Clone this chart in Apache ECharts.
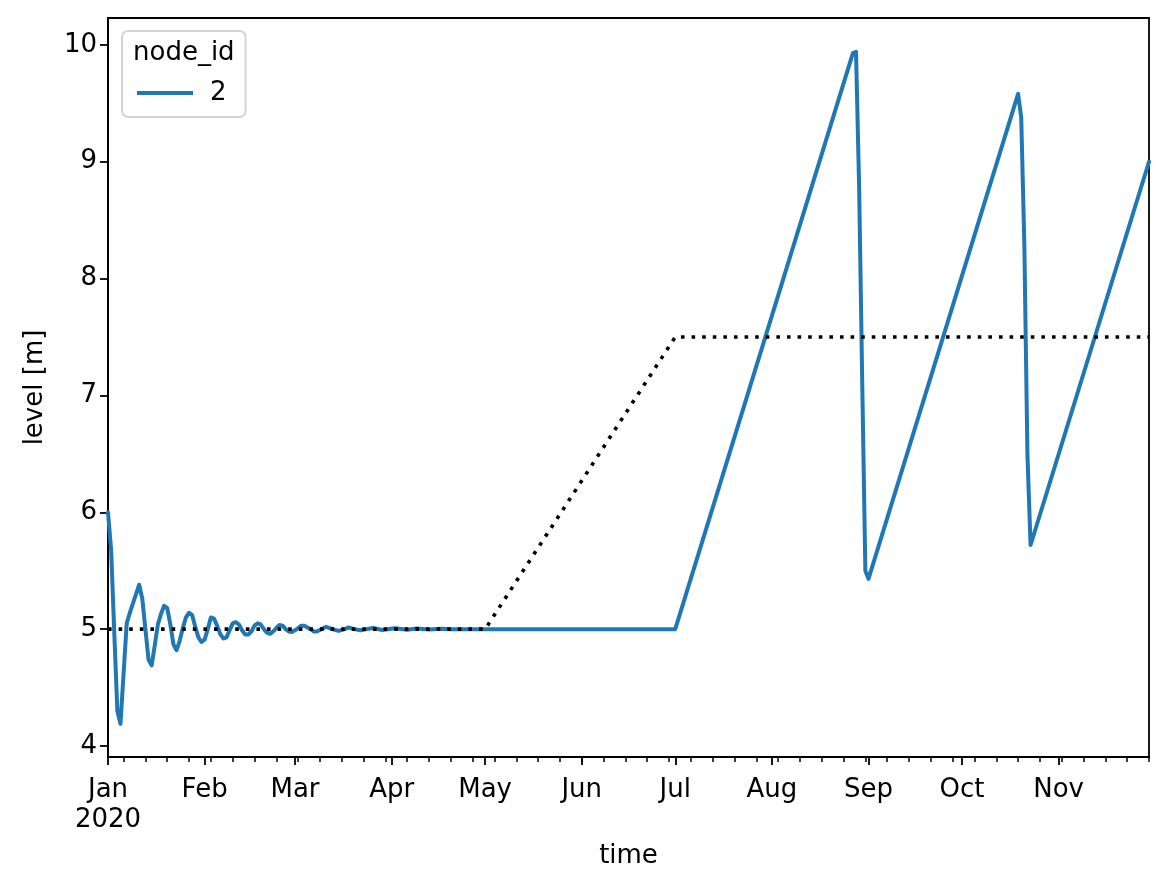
<!DOCTYPE html>
<html><head><meta charset="utf-8">
<script src="https://cdn.jsdelivr.net/npm/echarts@6/dist/echarts.min.js"></script>
<style>html,body{margin:0;padding:0;background:#fff}#c{width:1169px;height:888px}</style>
</head><body><div id="c"></div>
<script>
// ---- data ----
const levelDates = [
  '2020-01-01','2020-01-02','2020-01-03','2020-01-04','2020-01-05','2020-01-06','2020-01-07','2020-01-08',
  '2020-01-09','2020-01-10','2020-01-11','2020-01-12','2020-01-13','2020-01-14','2020-01-15','2020-01-16',
  '2020-01-17','2020-01-18','2020-01-19','2020-01-20','2020-01-21','2020-01-22','2020-01-23','2020-01-24',
  '2020-01-25','2020-01-26','2020-01-27','2020-01-28','2020-01-29','2020-01-30','2020-01-31',
  '2020-02-01','2020-02-02','2020-02-03','2020-02-04','2020-02-05','2020-02-06','2020-02-07','2020-02-08',
  '2020-02-09','2020-02-10','2020-02-11','2020-02-12','2020-02-13','2020-02-14','2020-02-15','2020-02-16',
  '2020-02-17','2020-02-18','2020-02-19','2020-02-20','2020-02-21','2020-02-22','2020-02-23','2020-02-24',
  '2020-02-25','2020-02-26','2020-02-27','2020-02-28','2020-02-29',
  '2020-03-01','2020-03-02','2020-03-03','2020-03-04','2020-03-06','2020-03-07','2020-03-08','2020-03-11',
  '2020-03-13','2020-03-15','2020-03-17','2020-03-18','2020-03-20','2020-03-22','2020-03-24','2020-03-26',
  '2020-03-29','2020-04-02','2020-04-06','2020-04-09','2020-04-13','2020-04-17','2020-04-20','2020-04-25',
  '2020-07-01','2020-08-27','2020-08-28','2020-08-29','2020-08-30','2020-08-31','2020-09-01',
  '2020-10-19','2020-10-20','2020-10-21','2020-10-22','2020-10-23','2020-11-30'
];
const levelValues = [
  6.00,5.68,4.98,4.30,4.19,4.62,5.05,5.14,
  5.22,5.30,5.38,5.26,5.00,4.74,4.69,4.86,
  5.04,5.13,5.20,5.18,5.04,4.87,4.82,4.90,
  5.01,5.10,5.14,5.12,5.02,4.93,4.89,
  4.91,5.00,5.10,5.09,5.03,4.96,4.92,4.93,
  4.99,5.05,5.06,5.04,4.99,4.955,4.955,4.98,
  5.03,5.05,5.04,5.00,4.97,4.96,4.98,5.01,
  5.035,5.03,5.00,4.98,4.975,
  4.99,5.01,5.03,5.03,5.00,4.98,4.98,5.02,
  5.00,4.985,5.00,5.015,5.00,4.99,5.00,5.01,
  4.993,5.008,4.995,5.005,4.997,5.003,4.999,5.00,
  5.00,9.93,9.94,8.78,7.10,5.50,5.43,
  9.58,9.38,8.30,6.49,5.72,9.00
];
const targetDates = ['2020-01-01','2020-05-01','2020-07-01','2020-11-30'];
const targetValues = [5.0, 5.0, 7.5, 7.5];
const monthTicks = ['2020-01-01','2020-02-01','2020-03-01','2020-04-01','2020-05-01','2020-06-01',
  '2020-07-01','2020-08-01','2020-09-01','2020-10-01','2020-11-01'];
const monthLabels = ['Jan\n2020','Feb','Mar','Apr','May','Jun','Jul','Aug','Sep','Oct','Nov'];
const yTicks = [4,5,6,7,8,9,10];
const yLabels = ['4','5','6','7','8','9','10'];
const seriesName = '2';
const legendTitle = 'node_id';
const xName = 'time';
const yName = 'level [m]';

// ---- build ----
const ts = d => Date.parse(d + 'T00:00:00Z');
const xMin = ts('2020-01-01'), xMax = ts('2020-11-30');
const monthTs = monthTicks.map(ts);
const weekTs = [];
for (let t = ts('2020-01-06'); t <= xMax; t += 7 * 86400000) weekTs.push(t);

const FONT = 'DejaVu Sans';
const FS = 26;
const chart = echarts.init(document.getElementById('c'), null, {renderer: 'canvas'});
chart.setOption({
  animation: false,
  backgroundColor: '#fff',
  grid: {left: 108, right: 20, top: 18, bottom: 131, show: true, borderColor: '#000', borderWidth: 1.8, backgroundColor: '#fff'},
  legend: {
    data: [seriesName], left: 122, top: 31, orient: 'vertical',
    backgroundColor: '#fff', borderColor: '#d4d4d4', borderWidth: 2, borderRadius: 6,
    padding: [49, 19, 11, 15], itemWidth: 56, itemHeight: 4, icon: 'rect',
    textStyle: {fontSize: FS, color: '#000', fontFamily: FONT, padding: [0, 0, 0, 12]}
  },
  graphic: [{type: 'text', left: 133, top: 40, z: 100,
    style: {text: legendTitle, fontSize: FS, fontFamily: FONT, fill: '#000'}}],
  xAxis: [{
    type: 'value', min: xMin, max: xMax,
    name: xName, nameLocation: 'middle', nameGap: 86,
    nameTextStyle: {fontSize: FS, color: '#000', fontFamily: FONT},
    axisLine: {show: true, lineStyle: {color: '#000', width: 1.8}},
    axisTick: {show: true, length: 8, lineStyle: {color: '#000', width: 1.8}, customValues: monthTs},
    axisLabel: {show: true, customValues: monthTs, margin: 18, fontSize: FS, lineHeight: 30, color: '#000', fontFamily: FONT,
      formatter: v => { const i = monthTs.indexOf(v); return i >= 0 ? monthLabels[i] : ''; }},
    splitLine: {show: false}
  }, {
    type: 'value', min: xMin, max: xMax, position: 'bottom', gridIndex: 0,
    axisLine: {show: false},
    axisTick: {show: true, length: 5, lineStyle: {color: '#000', width: 1.5}, customValues: weekTs},
    axisLabel: {show: false}, splitLine: {show: false}
  }],
  yAxis: {
    type: 'value', min: 3.906, max: 10.23,
    name: yName, nameLocation: 'middle', nameGap: 60,
    nameTextStyle: {fontSize: FS, color: '#000', fontFamily: FONT},
    axisLine: {show: true, lineStyle: {color: '#000', width: 1.8}},
    axisTick: {show: true, length: 8, lineStyle: {color: '#000', width: 1.8}, customValues: yTicks},
    axisLabel: {show: true, customValues: yTicks, margin: 11, fontSize: FS, color: '#000', fontFamily: FONT,
      formatter: v => { const i = yTicks.indexOf(v); return i >= 0 ? yLabels[i] : ''; }},
    splitLine: {show: false}
  },
  series: [{
    name: seriesName, type: 'line', xAxisIndex: 0, showSymbol: false, symbol: 'none',
    data: levelDates.map((d, i) => [ts(d), levelValues[i]]),
    lineStyle: {color: '#1f77b4', width: 4, join: 'round', cap: 'round'},
    itemStyle: {color: '#1f77b4'}, z: 2
  }, {
    name: 'target', type: 'line', xAxisIndex: 0, showSymbol: false, symbol: 'none',
    data: targetDates.map((d, i) => [ts(d), targetValues[i]]),
    lineStyle: {color: '#000', width: 3.6, type: [3.6, 7], cap: 'butt'}, z: 3
  }]
});
</script></body></html>
